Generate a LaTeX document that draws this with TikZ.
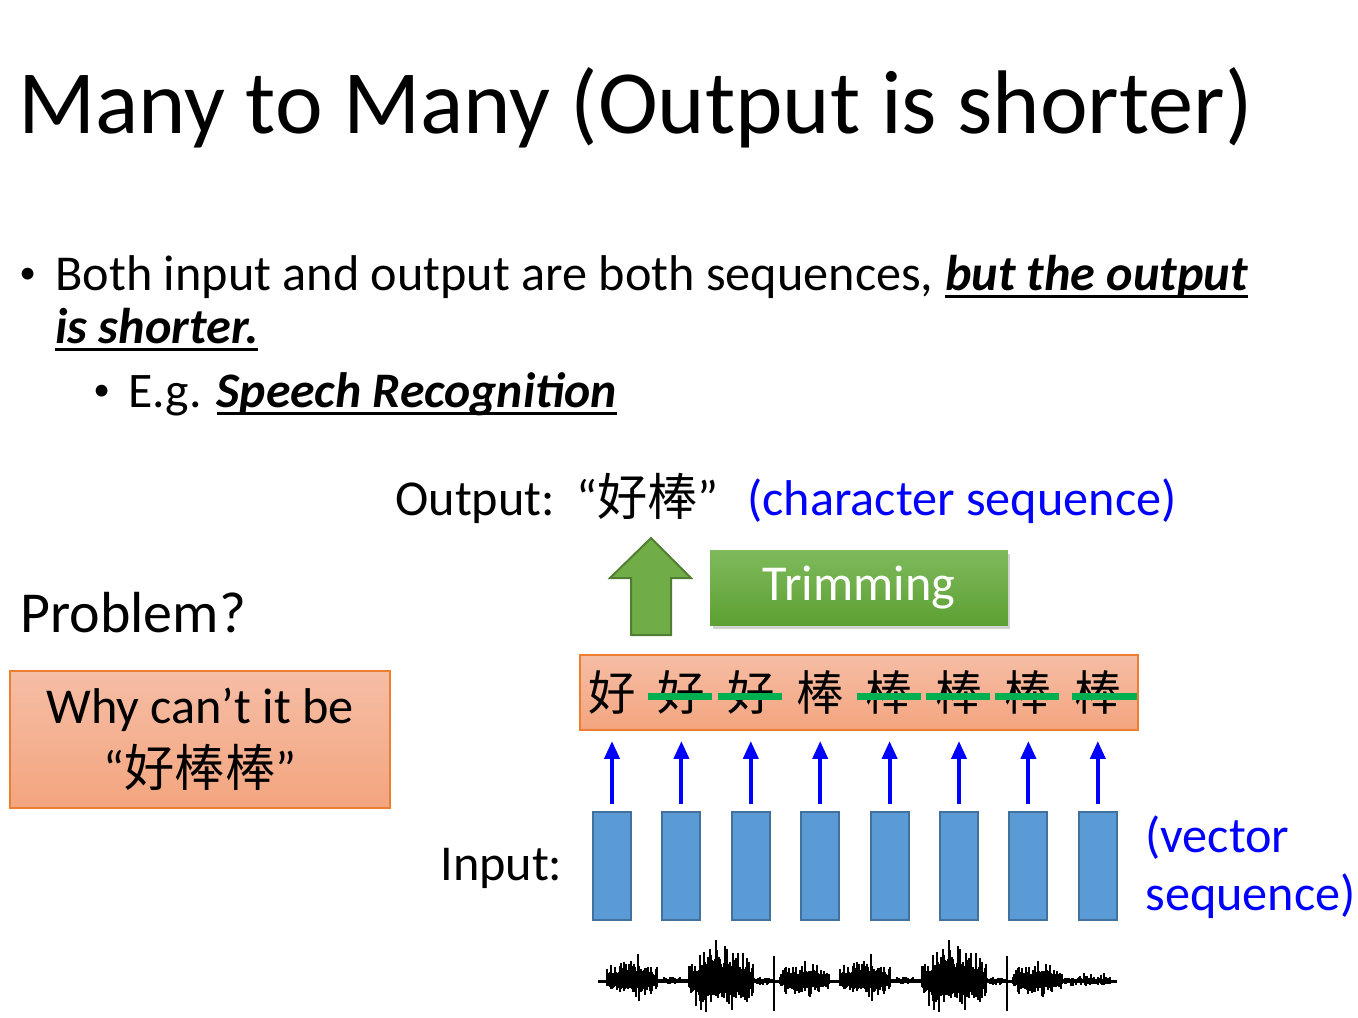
\documentclass[tikz,border=0pt]{standalone}
\usepackage{fontspec}
\setmainfont{Carlito}
\newfontfamily\cjk{Noto Sans CJK SC}
\usetikzlibrary{positioning}
\usetikzlibrary{arrows.meta}
\usetikzlibrary{shadows}
\usetikzlibrary{calc}
\definecolor{vecfill}{HTML}{5B9BD5}
\definecolor{vecdraw}{HTML}{41719C}
\definecolor{seqtop}{HTML}{F5BDA5}
\definecolor{seqbot}{HTML}{F4A57F}
\definecolor{seqdraw}{HTML}{ED7D31}
\definecolor{trimtop}{HTML}{7EBA5C}
\definecolor{trimbot}{HTML}{5EA033}
\definecolor{upfill}{HTML}{70AD47}
\definecolor{updraw}{HTML}{507E32}
\definecolor{strikegreen}{HTML}{00B050}
\newcommand\titlesize{\fontsize{51.4}{60}\selectfont}
\newcommand\bodysize{\fontsize{28.6}{34}\selectfont}
\newcommand\subsize{\fontsize{28.3}{34}\selectfont}
\newcommand\probsize{\fontsize{33}{40}\selectfont}
\newcommand\charsize{\fontsize{27}{30}\selectfont}
\newcommand\dotmark{{\fontsize{19}{22}\selectfont\raisebox{0.13cm}{•}}}
\newcommand\ulbi[1]{\setbox0=\hbox{\bfseries\itshape #1}\rlap{\copy0}\rule[-0.15cm]{\wd0}{0.05cm}}
\tikzstyle{plain}=[inner sep=0pt, anchor=base west]
\tikzstyle{bodytext}=[plain, font=\bodysize]
\tikzstyle{notetext}=[bodytext, text=blue]
\tikzstyle{seqbox}=[rectangle, draw=seqdraw, line width=0.04cm,
  top color=seqtop, bottom color=seqbot, minimum width=11.16cm,
  minimum height=1.5cm, inner sep=0pt]
\tikzstyle{askbox}=[seqbox, minimum width=7.6cm, minimum height=2.74cm,
  align=center, font=\fontsize{28.6}{35.7}\selectfont]
\tikzstyle{trimbox}=[rectangle, top color=trimtop, bottom color=trimbot,
  minimum width=5.96cm, minimum height=1.5cm, text=white, font=\bodysize,
  drop shadow={shadow xshift=0.05cm, shadow yshift=-0.07cm, opacity=0.35}]
\tikzstyle{upshape}=[fill=upfill, draw=updraw, line width=0.04cm]
\tikzstyle{vecbox}=[rectangle, fill=vecfill, draw=vecdraw, line width=0.04cm,
  minimum width=0.76cm, minimum height=2.16cm, inner sep=0pt]
\tikzstyle{vecarrow}=[-{Triangle[width=0.3cm, length=0.36cm]}, line width=0.08cm,
  draw=blue, shorten <=0.14cm, shorten >=0.2cm]
\tikzstyle{strike}=[draw=strikegreen, line width=0.14cm]
\tikzstyle{wavebar}=[line width=0.026cm]
\begin{document}
\begin{tikzpicture}[x=0.02cm, y=-0.02cm]
\useasboundingbox (0,0) rectangle (1358,1017);

% slide text
\node[plain, font=\titlesize] (title) at (18,133) {Many to Many (Output is shorter)};
\node[bodytext] (dot1) at (19,290) {\dotmark};
\node[bodytext] (line1) at (55,290) {Both input and output are both sequences, \ulbi{but the output}};
\node[bodytext] (line2) at (55,343) {\ulbi{is shorter.}};
\node[plain, font=\subsize] (dot2) at (93,407) {\dotmark};
\node[plain, font=\subsize] (eg) at (128,407) {E.g. \ulbi{Speech Recognition}};

% output side
\node[bodytext] (outlab) at (395,515) {Output:};
\node[bodytext] (outchars) at (576,515) {“{\cjk 好棒}”};
\node[notetext] (outnote) at (747,515) {(character sequence)};
\filldraw[upshape] (631,635) -- (631,578) -- (610,578) -- (651,538)
  -- (691,578) -- (671,578) -- (671,635) -- cycle;
\node[trimbox] (trim) at (859,587.5) {Trimming};

% problem
\node[plain, font=\probsize] (problem) at (20,632) {Problem?};
\node[askbox] (ask) at (200,739.5) {Why can’t it be\\“{\cjk 好棒棒}”};

% frame sequence
\node[seqbox] (seq) at (859,692.5) {};
\foreach \ch [count=\i] in {好,好,好,棒,棒,棒,棒,棒}
  \node[font=\charsize\cjk, inner sep=0pt] (c\i) at ({612+69.4*(\i-1)},692) {\ch};
\foreach \i/\l/\r in {2/-33/31, 3/-33/31, 5/-33/31, 6/-33/31, 7/-33/31, 8/-26/39}
  \draw[strike] ($(c\i.center)+(\l,4)$) -- ($(c\i.center)+(\r,4)$);

% input vectors
\foreach \i in {1,...,8} {
  \node[vecbox] (v\i) at ({612+69.4*(\i-1)},866) {};
  \draw[vecarrow] (v\i.north) -- (v\i.north |- seq.south);
}
\node[bodytext] (inlab) at (440,880) {Input:};
\node[notetext] (vecnote1) at (1145,852) {(vector};
\node[notetext] (vecnote2) at (1145,910) {sequence)};

% waveform
\coordinate (wave) at (598,981);
\draw[line width=0.06cm] (wave) -- ++(519,0);
\foreach \s in {0,233} {
  \begin{scope}[shift={(598+\s,981)}]
    \pgfmathsetseed{11}
    \foreach \a/\b/\amu/\amd in {9/59/32/22, 59/91/6/5, 91/155/46/40, 155/175/7/6, 182/231/24/20} {
      \foreach \x in {\a,...,\b} {
        \pgfmathsetmacro\env{0.5+0.5*sin(180*(\x-\a)/(\b-\a))}
        \pgfmathsetmacro\hu{\amu*\env*(0.3+0.7*rnd*rnd)}
        \pgfmathsetmacro\hd{\amd*\env*(0.3+0.7*rnd*rnd)}
        \draw[wavebar] (\x,-\hu) -- (\x,\hd);
      }
    }
    \draw[wavebar] (176,-25) -- (176,30);
  \end{scope}
}
\begin{scope}[shift={(598,981)}]
  \foreach \x in {466,...,512} {
    \pgfmathsetmacro\hu{9*(0.2+0.8*rnd*rnd)}
    \pgfmathsetmacro\hd{7*(0.2+0.8*rnd*rnd)}
    \draw[wavebar] (\x,-\hu) -- (\x,\hd);
  }
\end{scope}
\end{tikzpicture}
\end{document}
